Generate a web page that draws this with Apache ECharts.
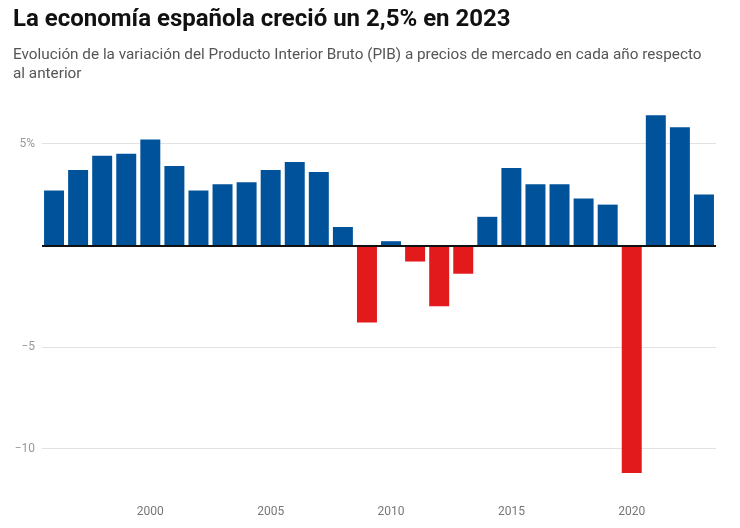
<!DOCTYPE html>
<html>
<head>
<meta charset="utf-8">
<script src="https://cdn.jsdelivr.net/npm/echarts@6/dist/echarts.min.js"></script>
<style>
  html, body { margin: 0; padding: 0; background: #fff; }
  #chart { width: 740px; height: 528px; }
</style>
</head>
<body>
<div id="chart"></div>
<script>
// años y variación del PIB (%)
var years = ['1996', '1997', '1998', '1999', '2000', '2001', '2002', '2003', '2004', '2005',
             '2006', '2007', '2008', '2009', '2010', '2011', '2012', '2013', '2014', '2015',
             '2016', '2017', '2018', '2019', '2020', '2021', '2022', '2023'];
var pib = [2.7, 3.7, 4.4, 4.5, 5.2, 3.9, 2.7, 3.0, 3.1, 3.7,
           4.1, 3.6, 0.9, -3.8, 0.2, -0.8, -3.0, -1.4, 1.4, 3.8,
           3.0, 3.0, 2.3, 2.0, -11.2, 6.4, 5.8, 2.5];
var yLabels = { '5': '5%', '-5': '\u22125', '-10': '\u221210' };

var azul = '#00539b';
var rojo = '#e31a1c';

var myChart = echarts.init(document.getElementById('chart'));

var data = [];
for (var i = 0; i < pib.length; i++) {
	data.push({
		value: pib[i],
		itemStyle: { color: pib[i] < 0 ? rojo : azul }
	});
}

var option = {
	animation: false,
	title: {
		text: 'La economía española creció un 2,5% en 2023',
		subtext: 'Evolución de la variación del Producto Interior Bruto (PIB) a precios de mercado en cada año respecto\nal anterior',
		left: 8,
		top: 3,
		itemGap: 14,
		textStyle: {
			fontFamily: 'Roboto',
			fontSize: 24,
			fontWeight: 'bold',
			color: '#111'
		},
		subtextStyle: {
			fontFamily: 'Roboto',
			fontSize: 15.3,
			color: '#555',
			lineHeight: 19
		}
	},
	grid: {
		left: 42,
		right: 24,
		top: 92.8,
		bottom: 28.6
	},
	xAxis: {
		type: 'category',
		data: years,
		axisLine: { show: false },
		axisTick: { show: false },
		axisLabel: {
			interval: function (idx, val) { return +val % 5 === 0; },
			color: '#777',
			fontFamily: 'Roboto',
			fontSize: 12,
			margin: 7
		}
	},
	yAxis: {
		type: 'value',
		min: -12.5,
		max: 7.5,
		interval: 2.5,
		axisLine: { show: false },
		axisTick: { show: false },
		axisLabel: {
			color: '#999',
			fontFamily: 'Roboto',
			fontSize: 12,
			margin: 7,
			formatter: function (v) { return yLabels[String(v)] || ''; }
		},
		splitLine: {
			lineStyle: { color: ['rgba(0,0,0,0)', '#e2e2e2'], width: 1 }
		}
	},
	series: [{
		type: 'bar',
		data: data,
		barCategoryGap: '17%',
		markLine: {
			silent: true,
			symbol: 'none',
			label: { show: false },
			lineStyle: { color: '#111', width: 2, type: 'solid' },
			data: [{ yAxis: 0 }]
		}
	}]
};

myChart.setOption(option);
</script>
</body>
</html>
